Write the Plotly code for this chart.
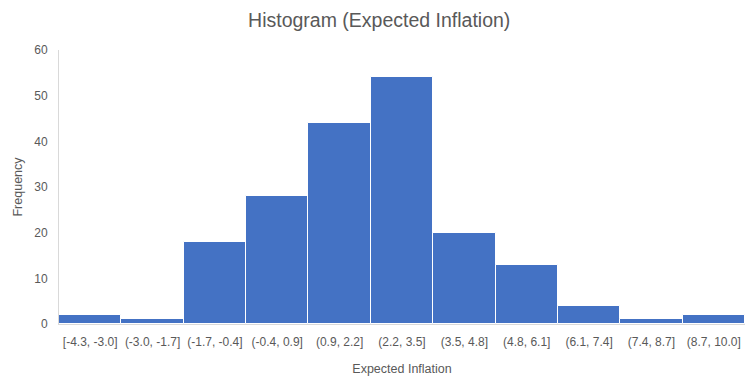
import plotly.graph_objects as go

categories = ["[-4.3, -3.0]", "(-3.0, -1.7]", "(-1.7, -0.4]", "(-0.4, 0.9]", "(0.9, 2.2]",
              "(2.2, 3.5]", "(3.5, 4.8]", "(4.8, 6.1]", "(6.1, 7.4]", "(7.4, 8.7]", "(8.7, 10.0]"]
frequency = [2, 1, 18, 28, 44, 54, 20, 13, 4, 1, 2]
y_ticks = [0, 10, 20, 30, 40, 50, 60]

FONT = "Liberation Sans"
GRAY = "#595959"

fig = go.Figure(go.Bar(
    x=categories, y=frequency,
    marker=dict(color="#4472C4", line=dict(color="white", width=1)),
))

fig.update_layout(
    width=745, height=376,
    margin=dict(l=59, r=0, t=50, b=52, autoexpand=False),
    paper_bgcolor="white", plot_bgcolor="white",
    bargap=0,
    showlegend=False,
    title=dict(text="Histogram (Expected Inflation)", x=0.509, xanchor="center",
               y=0.947, yanchor="middle", font=dict(family=FONT, size=19.5, color=GRAY)),
    font=dict(family=FONT, color=GRAY),
)
fig.update_xaxes(
    type="category", tickangle=0, showgrid=False, automargin=False,
    showline=True, linecolor="#D9D9D9", linewidth=1,
    ticks="", ticklabelstandoff=7, tickfont=dict(family=FONT, size=12, color=GRAY),
    title=dict(text="Expected Inflation", font=dict(family=FONT, size=12.5, color=GRAY), standoff=16),
)
fig.update_yaxes(
    range=[0, 60], tickvals=y_ticks, showgrid=False, automargin=False,
    showline=True, linecolor="#D9D9D9", linewidth=1, zeroline=False,
    ticks="", ticklabelstandoff=8, tickfont=dict(family=FONT, size=12, color=GRAY),
    title=dict(text="Frequency", font=dict(family=FONT, size=12.5, color=GRAY), standoff=8),
)

fig.write_html("out.html",
               config={"displayModeBar": False},
               post_script="document.body.style.margin='0';document.body.style.overflow='hidden';")
